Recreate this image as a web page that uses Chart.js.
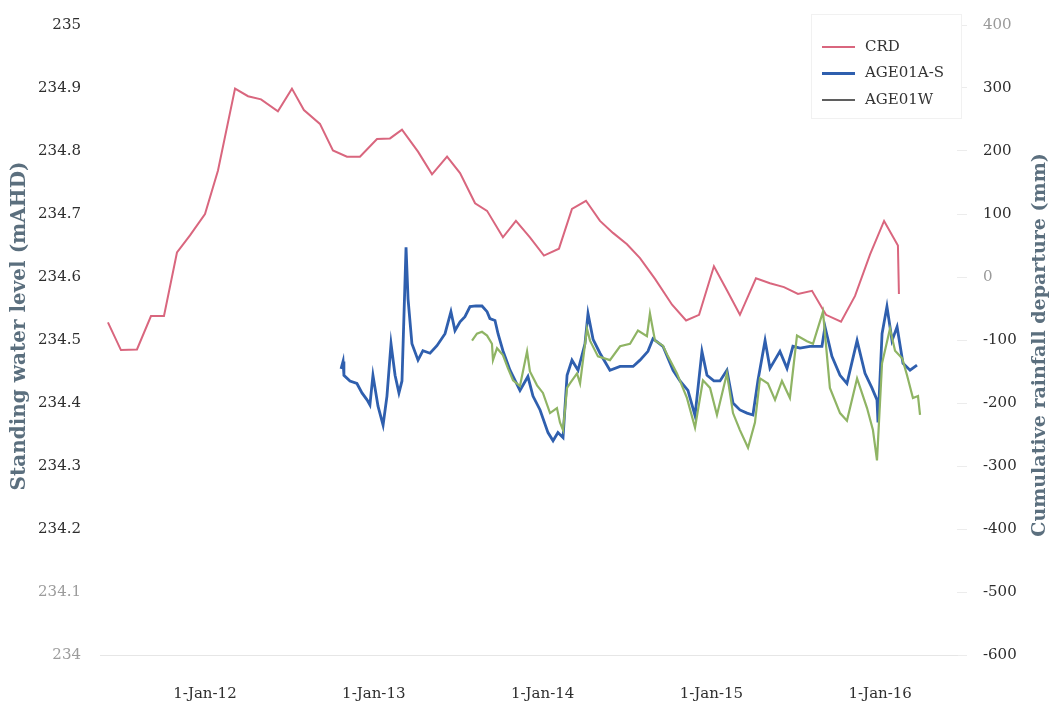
<!DOCTYPE html>
<html>
<head>
<meta charset="utf-8">
<script src="https://cdn.jsdelivr.net/npm/chart.js@4/dist/chart.umd.min.js"></script>
<style>
  html, body { margin: 0; padding: 0; background: #ffffff; }
  #wrap { width: 1053px; height: 710px; }
</style>
</head>
<body>
<div id="wrap"><canvas id="c" width="1053" height="710"></canvas></div>
<script>
// Time is expressed in decimal years.
const xTickYears  = [2012, 2013, 2014, 2015, 2016];
const xTickLabels = ['1-Jan-12', '1-Jan-13', '1-Jan-14', '1-Jan-15', '1-Jan-16'];

// Cumulative rainfall departure (mm), roughly monthly
const crdDates = [
  2011.425, 2011.502, 2011.597, 2011.680, 2011.757, 2011.834, 2011.911,
  2012.000, 2012.077, 2012.178, 2012.255, 2012.332, 2012.432, 2012.515, 2012.586, 2012.681, 2012.758, 2012.841, 2012.918,
  2013.019, 2013.096, 2013.167, 2013.262, 2013.345, 2013.434, 2013.511, 2013.600, 2013.671, 2013.765, 2013.842, 2013.925,
  2014.008, 2014.097, 2014.174, 2014.257, 2014.340, 2014.417, 2014.500, 2014.577, 2014.666, 2014.767, 2014.850, 2014.927,
  2015.015, 2015.092, 2015.169, 2015.264, 2015.347, 2015.430, 2015.513, 2015.596, 2015.679, 2015.768, 2015.851, 2015.940,
  2016.023, 2016.105, 2016.111
];
const crdValues = [
  -72, -116, -115, -62, -62, 39, 66,
  100, 169, 299, 287, 282, 263, 299, 265, 243, 201, 191, 191,
  219, 220, 234, 199, 163, 191, 165, 117, 105, 63, 89, 63,
  34, 45, 108, 121, 89, 70, 52, 30, -3, -44, -69, -60,
  17, -21, -60, -2, -10, -16, -27, -22, -60, -71, -30, 36,
  89, 50, -27
];

// AGE01A-S standing water level (mAHD)
const ageADates = [
  2012.806, 2012.818, 2012.823, 2012.859, 2012.900, 2012.930, 2012.960, 2012.977, 2012.995,
  2013.025, 2013.055, 2013.078, 2013.102, 2013.126, 2013.149, 2013.167, 2013.191, 2013.203, 2013.226,
  2013.262, 2013.291, 2013.333, 2013.374, 2013.422, 2013.457, 2013.481, 2013.511, 2013.540, 2013.570,
  2013.605, 2013.641, 2013.671, 2013.688, 2013.718, 2013.736, 2013.765, 2013.807, 2013.866, 2013.913,
  2013.943, 2013.985, 2014.032, 2014.062, 2014.091, 2014.121, 2014.145, 2014.174, 2014.210, 2014.251,
  2014.269, 2014.299, 2014.340, 2014.399, 2014.459, 2014.536, 2014.577, 2014.624, 2014.654, 2014.713,
  2014.773, 2014.814, 2014.861, 2014.903, 2014.944, 2014.974, 2015.015, 2015.051, 2015.092, 2015.128,
  2015.169, 2015.211, 2015.246, 2015.276, 2015.318, 2015.347, 2015.406, 2015.448, 2015.483, 2015.525,
  2015.584, 2015.655, 2015.673, 2015.714, 2015.762, 2015.803, 2015.863, 2015.910, 2015.951, 2015.981,
  2015.987, 2016.011, 2016.040, 2016.058, 2016.070, 2016.100, 2016.135, 2016.177, 2016.218
];
const ageAValues = [
  234.454, 234.466, 234.444, 234.435, 234.431, 234.416, 234.405, 234.397, 234.444,
  234.395, 234.365, 234.411, 234.494, 234.444, 234.416, 234.435, 234.647, 234.565, 234.494,
  234.468, 234.483, 234.479, 234.491, 234.510, 234.545, 234.515, 234.529, 234.537, 234.553,
  234.554, 234.554, 234.545, 234.534, 234.531, 234.510, 234.483, 234.452, 234.420, 234.442,
  234.411, 234.389, 234.353, 234.340, 234.353, 234.345, 234.444, 234.468, 234.452, 234.494,
  234.542, 234.501, 234.479, 234.452, 234.458, 234.458, 234.468, 234.482, 234.502, 234.490,
  234.452, 234.435, 234.420, 234.380, 234.482, 234.444, 234.435, 234.435, 234.452, 234.400,
  234.389, 234.384, 234.381, 234.436, 234.499, 234.455, 234.482, 234.455, 234.490, 234.487,
  234.490, 234.490, 234.521, 234.474, 234.444, 234.431, 234.499, 234.447, 234.424, 234.405,
  234.369, 234.510, 234.553, 234.521, 234.499, 234.521, 234.463, 234.452, 234.460
];

// AGE01W standing water level (mAHD)
const ageWDates = [
  2013.582, 2013.611, 2013.641, 2013.671, 2013.700, 2013.706, 2013.730, 2013.765, 2013.795, 2013.825,
  2013.866, 2013.908, 2013.925, 2013.967, 2014.002, 2014.044, 2014.085, 2014.103, 2014.121, 2014.145,
  2014.162, 2014.204, 2014.222, 2014.263, 2014.281, 2014.328, 2014.399, 2014.459, 2014.518, 2014.565,
  2014.618, 2014.636, 2014.666, 2014.713, 2014.743, 2014.796, 2014.855, 2014.903, 2014.950, 2014.992,
  2015.033, 2015.092, 2015.128, 2015.169, 2015.217, 2015.258, 2015.288, 2015.335, 2015.377, 2015.418,
  2015.465, 2015.507, 2015.566, 2015.602, 2015.661, 2015.702, 2015.762, 2015.803, 2015.863, 2015.922,
  2015.957, 2015.981, 2016.011, 2016.058, 2016.088, 2016.130, 2016.159, 2016.194, 2016.224, 2016.236
];
const ageWValues = [
  234.499, 234.510, 234.513, 234.507, 234.494, 234.468, 234.487, 234.476, 234.455, 234.436,
  234.427, 234.482, 234.450, 234.428, 234.416, 234.384, 234.392, 234.369, 234.357, 234.424,
  234.431, 234.447, 234.431, 234.518, 234.499, 234.474, 234.468, 234.490, 234.494, 234.515,
  234.506, 234.542, 234.499, 234.491, 234.474, 234.447, 234.408, 234.361, 234.436, 234.424,
  234.381, 234.447, 234.384, 234.357, 234.329, 234.369, 234.439, 234.431, 234.405, 234.435,
  234.408, 234.507, 234.498, 234.494, 234.545, 234.424, 234.384, 234.372, 234.439, 234.392,
  234.357, 234.309, 234.463, 234.518, 234.483, 234.471, 234.444, 234.408, 234.411, 234.381
];

const toPoints = (xs, ys) => xs.map((x, i) => ({ x: x, y: ys[i] }));

const COLORS = {
  crd:  '#d9667e',
  ageA: '#2f5fae',
  ageW: '#8fb464',
  ageWKey: '#2a2a2a'
};
const TICK_FONT = { family: 'DejaVu Serif', size: 15 };
const TITLE_COLOR = '#5b6f7e';

// Axis titles, both reading bottom-to-top
const axisTitles = {
  id: 'axisTitles',
  afterDraw(chart) {
    const ctx = chart.ctx;
    const mid = (chart.chartArea.top + chart.chartArea.bottom) / 2;
    ctx.save();
    ctx.fillStyle = TITLE_COLOR;
    ctx.textAlign = 'center';
    ctx.textBaseline = 'middle';
    [[20, mid - 14, 'Standing water level (mAHD)', 20],
     [1040, mid + 5, 'Cumulative rainfall departure (mm)', 19]].forEach(([x, y, t, size]) => {
      ctx.save();
      ctx.font = 'bold ' + size + 'px "DejaVu Serif"';
      ctx.translate(x, y);
      ctx.rotate(-Math.PI / 2);
      ctx.fillText(t, 0, 0);
      ctx.restore();
    });
    ctx.restore();
  }
};

// Boxed key in the upper right of the plot
const keyBox = {
  id: 'keyBox',
  afterDraw(chart) {
    const ctx = chart.ctx;
    const ds = chart.data.datasets;
    const keyColors = [COLORS.crd, COLORS.ageA, COLORS.ageWKey];
    const keyWidths = [2, 3, 1.5];
    const x0 = 811, y0 = 14, w = 150, h = 104;
    ctx.save();
    ctx.fillStyle = '#ffffff';
    ctx.fillRect(x0, y0, w, h);
    ctx.strokeStyle = '#f1f1f1';
    ctx.lineWidth = 1;
    ctx.strokeRect(x0 + 0.5, y0 + 0.5, w, h);
    ctx.font = '15px "DejaVu Serif"';
    ctx.textAlign = 'left';
    ctx.textBaseline = 'middle';
    ds.forEach((d, i) => {
      const y = 47 + i * 26.5;
      ctx.strokeStyle = keyColors[i];
      ctx.lineWidth = keyWidths[i];
      ctx.beginPath();
      ctx.moveTo(822, y);
      ctx.lineTo(855, y);
      ctx.stroke();
      ctx.fillStyle = '#333333';
      ctx.fillText(d.label, 865, y);
    });
    ctx.restore();
  }
};

new Chart(document.getElementById('c'), {
  type: 'line',
  data: {
    datasets: [
      { label: 'CRD', data: toPoints(crdDates, crdValues), yAxisID: 'yR',
        borderColor: COLORS.crd, borderWidth: 2, pointRadius: 0, tension: 0, order: 3 },
      { label: 'AGE01A-S', data: toPoints(ageADates, ageAValues), yAxisID: 'yL',
        borderColor: COLORS.ageA, borderWidth: 2.8, pointRadius: 0, tension: 0, order: 2 },
      { label: 'AGE01W', data: toPoints(ageWDates, ageWValues), yAxisID: 'yL',
        borderColor: COLORS.ageW, borderWidth: 2.2, pointRadius: 0, tension: 0, order: 1 }
    ]
  },
  options: {
    responsive: false,
    animation: false,
    devicePixelRatio: 1,
    layout: { padding: { top: 19, left: 0, right: 0, bottom: 0 } },
    plugins: { legend: { display: false }, tooltip: { enabled: false } },
    scales: {
      x: {
        type: 'linear',
        min: 2011.378,
        max: 2016.455,
        afterBuildTicks: (scale) => { scale.ticks = xTickYears.map(v => ({ value: v })); },
        afterFit: (scale) => { scale.height = 55; },
        ticks: {
          font: TICK_FONT, color: '#2e2e2e', padding: 22, maxRotation: 0,
          callback: (v) => xTickLabels[xTickYears.indexOf(v)]
        },
        grid: { display: false },
        border: { display: true, color: '#e6e6e6' }
      },
      yL: {
        position: 'left',
        min: 234, max: 235,
        afterFit: (scale) => { scale.width = 100; },
        ticks: {
          stepSize: 0.1, font: TICK_FONT, padding: 11,
          color: (c) => (c.tick.value < 234.15 ? '#9c9c9c' : '#2e2e2e'),
          callback: (v) => String(Math.round(v * 10) / 10)
        },
        grid: { display: false },
        border: { display: false }
      },
      yR: {
        position: 'right',
        min: -600, max: 400,
        afterFit: (scale) => { scale.width = 96; },
        ticks: {
          stepSize: 100, font: TICK_FONT, padding: 16,
          color: (c) => (c.tick.value === 400 || c.tick.value === 0 ? '#9a9a9a' : '#2e2e2e')
        },
        grid: { drawOnChartArea: false, drawTicks: true, tickLength: 10, color: '#ececec' },
        border: { display: false }
      }
    }
  },
  plugins: [axisTitles, keyBox]
});
</script>
</body>
</html>
